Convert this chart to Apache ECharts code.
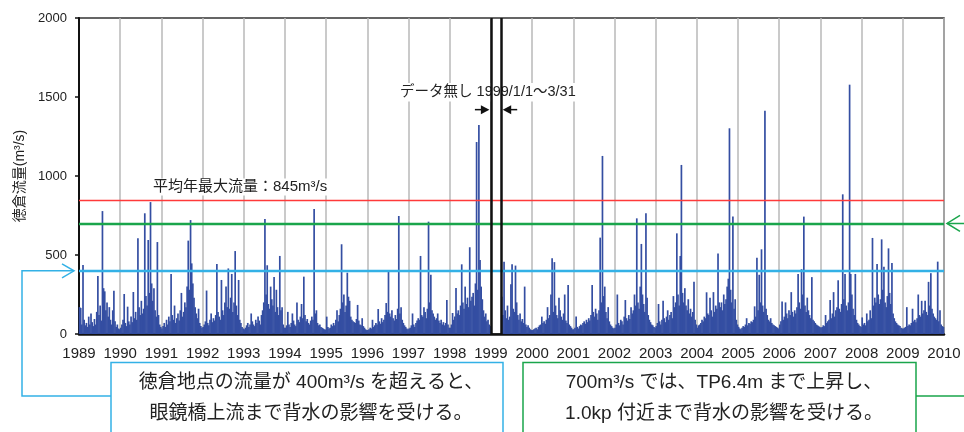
<!DOCTYPE html>
<html><head><meta charset="utf-8">
<script src="https://cdn.jsdelivr.net/npm/echarts@6/dist/echarts.min.js"></script>
<style>html,body{margin:0;padding:0;background:#fff}#c{width:964px;height:432px}</style>
</head><body><div id="c"></div>
<script>
// ---- data (10-day peak discharge at 徳倉, m3/s) ----
const years = [1989,1990,1991,1992,1993,1994,1995,1996,1997,1998,1999,2000,2001,2002,2003,2004,2005,2006,2007,2008,2009];
const perYear = 36;
const q1989 = [170,165,60,437,90,55,70,45,110,60,130,75,50,95,60,140,367,120,180,85,778,290,270,150,200,110,170,90,60,150,274,80,45,60,35,30];
const q1990 = [40,60,90,253,70,50,173,80,60,110,75,266,100,140,90,606,170,120,210,130,160,764,240,180,595,260,835,320,210,290,150,110,582,120,60,45];
const q1991 = [35,50,70,45,90,60,110,80,380,120,90,180,70,100,130,85,150,260,110,140,200,170,300,591,280,721,447,320,230,170,130,100,160,70,50,40];
const q1992 = [45,60,80,275,70,55,90,130,75,100,85,120,443,140,110,90,342,150,120,200,300,170,415,160,230,380,140,200,525,180,120,342,90,70,45,35];
const q1993 = [30,40,55,70,45,60,130,80,60,50,90,70,110,85,60,120,150,200,728,250,435,190,160,300,220,180,360,140,280,170,120,494,150,170,60,40];
const q1994 = [40,55,140,60,45,70,130,85,60,50,200,90,75,110,190,100,363,120,80,95,70,60,85,110,90,791,130,150,70,55,60,45,40,35,30,28];
const q1995 = [110,45,35,40,60,50,70,55,90,150,80,120,160,568,200,250,140,180,388,236,210,110,90,80,75,70,95,184,85,60,55,100,50,40,30,25];
const q1996 = [25,30,40,35,90,45,55,70,60,158,80,65,100,75,90,120,196,140,405,130,110,150,100,85,120,95,160,747,130,170,90,70,55,45,35,30];
const q1997 = [35,40,55,130,60,45,70,85,100,90,494,120,110,170,140,100,160,711,200,375,150,130,110,90,100,130,85,70,90,60,75,55,70,215,60,40];
const q1998 = [40,60,133,90,110,291,130,150,120,180,441,200,160,300,190,230,170,549,210,236,260,180,320,1215,280,1323,468,300,220,150,110,130,80,90,60,50];
const q1999 = [null,null,null,null,null,null,null,null,null,236,120,458,150,100,180,90,110,315,441,160,140,433,200,120,90,130,80,95,70,300,60,45,55,40,30,25];
const q2000 = [25,30,35,40,30,45,55,60,110,70,80,65,90,170,100,120,250,479,140,455,180,120,100,230,150,110,90,130,250,85,70,310,60,50,40,30];
const q2001 = [30,40,110,45,35,50,60,55,70,80,65,90,75,100,85,120,310,140,110,160,130,90,150,610,200,1127,240,300,140,100,170,80,60,50,40,35];
const q2002 = [40,60,250,70,55,90,80,60,110,215,100,85,120,95,170,130,150,250,180,732,200,160,300,570,250,190,140,764,230,120,90,75,60,55,45,40];
const q2003 = [50,70,190,80,60,90,210,100,75,110,150,90,120,140,100,240,170,200,637,250,180,494,1070,260,200,290,180,150,220,130,160,110,140,330,90,60];
const q2004 = [40,55,60,70,90,80,110,100,264,130,120,230,150,110,265,140,180,160,510,200,170,200,150,250,190,220,300,350,1302,280,200,743,160,220,90,60];
const q2005 = [45,35,30,40,50,45,60,100,55,70,65,80,75,90,175,110,483,150,375,200,536,180,140,1413,160,120,90,80,100,70,60,55,50,45,40,35];
const q2006 = [60,80,205,90,110,200,130,100,150,120,265,140,110,150,130,170,380,200,160,410,250,743,180,140,230,150,120,100,360,90,80,70,60,55,50,45];
const q2007 = [40,45,55,50,120,70,80,90,215,100,130,265,110,150,170,340,160,140,190,884,220,380,180,150,200,1578,380,250,160,120,380,90,70,60,50,45];
const q2008 = [105,60,70,55,130,80,90,150,100,608,180,230,200,443,250,190,220,599,280,425,200,170,240,542,260,190,450,130,100,80,70,60,55,50,40,35];
const q2009 = [35,40,45,170,50,60,55,70,160,80,90,75,100,250,120,110,210,130,150,210,140,120,330,180,385,160,130,110,100,90,458,80,150,60,50,45];
const flows = [q1989,q1990,q1991,q1992,q1993,q1994,q1995,q1996,q1997,q1998,q1999,q2000,q2001,q2002,q2003,q2004,q2005,q2006,q2007,q2008,q2009];

const xMin = 1989, xMax = 2010, xStep = 1;
const yMin = 0, yMax = 2000, yStep = 500;
const meanAnnualMax = 845;   // 平均年最大流量
const level700 = 700;
const level400 = 400;
const gapFrom = 1999, gapTo = 1999.25;  // データ無し 1999/1/1～3/31
const noteGapValue = 1530, noteArrowValue = 1420, noteMeanValue = 930;

const labelMean = '平均年最大流量：845m³/s';
const labelGap = 'データ無し 1999/1/1～3/31';
const box1 = ['徳倉地点の流量が 400m³/s を超えると、', '眼鏡橋上流まで背水の影響を受ける。'];
const box2 = ['700m³/s では、TP6.4m まで上昇し、', '1.0kp 付近まで背水の影響を受ける。'];
const yName = '徳倉流量(m³/s)';

// ---- build ----
const data = [];
flows.forEach((arr, k) => arr.forEach((v, i) => {
  if (v !== null) data.push([years[k] + (i + 0.5) / perYear, v]);
}));

const FONT = '"Liberation Sans","Noto Sans CJK JP",sans-serif';
const BLUE = '#344ea2', CYAN = '#33b1e6', GREEN = '#1aa54b', RED = '#ff3a3a';

const chart = echarts.init(document.getElementById('c'), null, {renderer: 'canvas'});
chart.setOption({
  animation: false,
  backgroundColor: '#fff',
  grid: {left: 79, right: 20, top: 18, bottom: 98, show: true, borderColor: '#333', borderWidth: 1.5, backgroundColor: '#fff'},
  xAxis: {
    type: 'value', min: xMin, max: xMax, interval: xStep,
    axisLine: {show: true, onZero: false, lineStyle: {color: '#111', width: 2.5}},
    axisTick: {show: false},
    splitLine: {show: true, lineStyle: {color: '#b9b9b9', width: 1.5}},
    axisLabel: {formatter: v => String(v), fontSize: 15, color: '#222', fontFamily: FONT, margin: 12}
  },
  yAxis: {
    type: 'value', min: yMin, max: yMax, interval: yStep,
    name: yName, nameLocation: 'middle', nameRotate: 90, nameGap: 31,
    nameTextStyle: {fontSize: 14, color: '#222', fontFamily: FONT},
    axisLine: {show: true, lineStyle: {color: '#111', width: 2}},
    axisTick: {show: true, length: 4, lineStyle: {color: '#111', width: 1.5}},
    splitLine: {show: false},
    axisLabel: {formatter: v => String(v), fontSize: 13, color: '#222', fontFamily: FONT, margin: 12}
  },
  series: [{
    type: 'bar', data: data, barWidth: 1.7, itemStyle: {color: BLUE},
    silent: true,
    markLine: {
      silent: true, symbol: ['none', 'none'], label: {show: false},
      data: [
        {yAxis: meanAnnualMax, lineStyle: {color: RED, width: 1.4, type: 'solid'}},
        {yAxis: level700, lineStyle: {color: GREEN, width: 2.4, type: 'solid'}},
        {yAxis: level400, lineStyle: {color: CYAN, width: 2.4, type: 'solid'}},
        {xAxis: gapFrom, lineStyle: {color: '#111', width: 2.5, type: 'solid'}},
        {xAxis: gapTo, lineStyle: {color: '#111', width: 2.5, type: 'solid'}}
      ]
    }
  }]
});

const px = (x, y) => chart.convertToPixel({gridIndex: 0}, [x, y]);
const [xA] = px(gapFrom, 0), [xB] = px(gapTo, 0);
const yGapText = px(gapFrom, noteGapValue)[1];
const yArrow = px(gapFrom, noteArrowValue)[1];
const yMean = px(xMin, noteMeanValue)[1];
const y400 = px(xMin, level400)[1];
const y700 = px(xMin, level700)[1];
const [gx0] = px(xMin, 0), [gx1] = px(xMax, 0);

const TXT = '#222';
const els = [];
els.push({type: 'text', z: 1, style: {text: labelGap, x: xA - 3, y: yGapText, align: 'center', verticalAlign: 'middle',
  font: '14.5px ' + FONT, fill: TXT, backgroundColor: '#fff', padding: [2, 3]}});
els.push({type: 'line', z: 10, shape: {x1: xA - 16, y1: yArrow, x2: xA - 8, y2: yArrow}, style: {stroke: '#111', lineWidth: 1.5}});
els.push({type: 'polygon', z: 10, shape: {points: [[xA - 1.5, yArrow], [xA - 10, yArrow - 4.5], [xA - 10, yArrow + 4.5]]}, style: {fill: '#111'}});
els.push({type: 'line', z: 10, shape: {x1: xB + 8, y1: yArrow, x2: xB + 16, y2: yArrow}, style: {stroke: '#111', lineWidth: 1.5}});
els.push({type: 'polygon', z: 10, shape: {points: [[xB + 1.5, yArrow], [xB + 10, yArrow - 4.5], [xB + 10, yArrow + 4.5]]}, style: {fill: '#111'}});
els.push({type: 'text', z: 1, style: {text: labelMean, x: gx0 + 72, y: yMean, align: 'left', verticalAlign: 'middle',
  font: '15px ' + FONT, fill: TXT, backgroundColor: '#fff', padding: [1, 2]}});
els.push({type: 'polyline', z: 10, shape: {points: [[gx0 - 5, y400], [22, y400], [22, 396], [111, 396]]}, style: {stroke: CYAN, lineWidth: 1.5, fill: null}});
els.push({type: 'polyline', z: 10, shape: {points: [[gx0 - 17, y400 - 7], [gx0 - 5, y400], [gx0 - 17, y400 + 7]]}, style: {stroke: CYAN, lineWidth: 1.5, fill: null}});
els.push({type: 'polyline', z: 10, shape: {points: [[gx1 + 3, y700], [980, y700], [980, 396], [916, 396]]}, style: {stroke: GREEN, lineWidth: 1.5, fill: null}});
els.push({type: 'polyline', z: 10, shape: {points: [[gx1 + 16, y700 - 8], [gx1 + 3, y700], [gx1 + 16, y700 + 8]]}, style: {stroke: GREEN, lineWidth: 1.5, fill: null}});
els.push({type: 'rect', z: 10, shape: {x: 111, y: 362.5, width: 392, height: 100}, style: {stroke: CYAN, lineWidth: 1.5, fill: '#fff'}});
els.push({type: 'rect', z: 10, shape: {x: 523, y: 362.5, width: 393, height: 100}, style: {stroke: GREEN, lineWidth: 1.5, fill: '#fff'}});
box1.forEach((t, i) => els.push({type: 'text', z: 11, style: {text: t, x: 311, y: 383 + i * 31, align: 'center', verticalAlign: 'middle', font: '19px ' + FONT, fill: TXT}}));
box2.forEach((t, i) => els.push({type: 'text', z: 11, style: {text: t, x: 724, y: 383 + i * 31, align: 'center', verticalAlign: 'middle', font: '19px ' + FONT, fill: TXT}}));

chart.setOption({graphic: {elements: els}});
</script>
</body></html>
